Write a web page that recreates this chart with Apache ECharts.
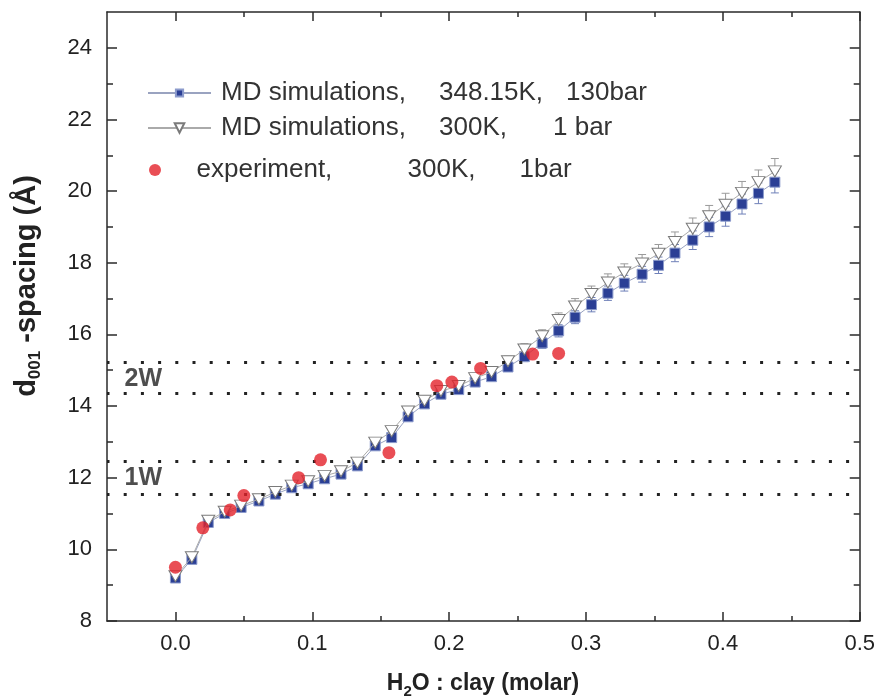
<!DOCTYPE html>
<html><head><meta charset="utf-8">
<script src="https://cdn.jsdelivr.net/npm/echarts@6/dist/echarts.min.js"></script>
<style>html,body{margin:0;padding:0;background:#fff}#c{width:878px;height:699px}</style>
</head><body><div id="c"></div>
<script>
// ---- data ----
const xMD = [0, 0.012, 0.024, 0.036, 0.048, 0.061, 0.073, 0.085, 0.097, 0.109, 0.121, 0.133, 0.146, 0.158, 0.170, 0.182, 0.194, 0.207, 0.219, 0.231, 0.243, 0.255, 0.268, 0.280, 0.292, 0.304, 0.316, 0.328, 0.341, 0.353, 0.365, 0.378, 0.390, 0.402, 0.414, 0.426, 0.438];
const yMD348 = [9.2, 9.72, 10.75, 11.0, 11.17, 11.35, 11.54, 11.72, 11.83, 11.97, 12.1, 12.33, 12.89, 13.12, 13.7, 14.06, 14.33, 14.46, 14.67, 14.82, 15.09, 15.38, 15.76, 16.1, 16.48, 16.83, 17.15, 17.43, 17.68, 17.93, 18.27, 18.63, 19.0, 19.3, 19.64, 19.94, 20.25];
const yMD300 = [9.25, 9.78, 10.8, 11.05, 11.22, 11.4, 11.6, 11.78, 11.9, 12.05, 12.18, 12.42, 12.98, 13.3, 13.85, 14.15, 14.42, 14.56, 14.78, 14.95, 15.25, 15.58, 15.95, 16.4, 16.78, 17.13, 17.45, 17.73, 17.98, 18.25, 18.58, 18.95, 19.3, 19.62, 19.95, 20.25, 20.55];
const errMD348 = [0.05, 0.05, 0.05, 0.05, 0.05, 0.05, 0.05, 0.05, 0.05, 0.06, 0.06, 0.07, 0.09, 0.1, 0.1, 0.09, 0.09, 0.09, 0.1, 0.1, 0.12, 0.14, 0.15, 0.17, 0.18, 0.2, 0.2, 0.22, 0.22, 0.23, 0.24, 0.26, 0.27, 0.28, 0.28, 0.29, 0.3];
const errMD300 = [0.05, 0.05, 0.05, 0.05, 0.05, 0.05, 0.05, 0.05, 0.06, 0.06, 0.06, 0.08, 0.1, 0.12, 0.12, 0.1, 0.1, 0.1, 0.1, 0.12, 0.14, 0.16, 0.18, 0.2, 0.22, 0.22, 0.24, 0.24, 0.25, 0.26, 0.28, 0.3, 0.3, 0.32, 0.32, 0.34, 0.36];
const xExp = [0.0, 0.02, 0.04, 0.05, 0.09, 0.106, 0.156, 0.191, 0.202, 0.223, 0.261, 0.28];
const yExp = [9.5, 10.6, 11.1, 11.5, 12.0, 12.5, 12.7, 14.57, 14.67, 15.05, 15.45, 15.47];
const xTicks = [0, 0.1, 0.2, 0.3, 0.4, 0.5];
const xMinorTicks = [0.05, 0.15, 0.25, 0.35, 0.45];
const yTicks = [8, 10, 12, 14, 16, 18, 20, 22, 24];
const yMinorTicks = [9, 11, 13, 15, 17, 19, 21, 23];
const hydrationLevels = [15.22, 14.36, 12.45, 11.54];
const hydrationLabels = [[-0.0235, 14.76, '2W'], [-0.0235, 12.0, '1W']];
const seriesNames = ['MD simulations, 348.15K, 130bar', 'MD simulations, 300K,   1 bar', 'experiment,       300K,    1bar'];

// ---- chart ----
const NARROW = '"Liberation Sans Narrow", "Arial Narrow", "Liberation Sans", Arial, sans-serif';
const SANS = '"Liberation Sans", Arial, sans-serif';
const AX = '#2a2a2a';

function xAx(pos, ticks, len, line, label) {
  return {
    type: 'value', min: -0.05, max: 0.5, position: pos,
    axisLine: { show: line, onZero: false, lineStyle: { color: AX, width: 1.5 } },
    axisTick: { show: true, inside: true, length: len, customValues: ticks, lineStyle: { color: AX, width: 1.5 } },
    axisLabel: label ? { show: true, customValues: ticks, formatter: v => v.toFixed(1), fontFamily: NARROW, fontSize: 22, color: '#222', margin: 12 } : { show: false },
    splitLine: { show: false }
  };
}
function yAx(pos, ticks, len, line, label) {
  return {
    type: 'value', min: 8, max: 25, position: pos,
    axisLine: { show: line, onZero: false, lineStyle: { color: AX, width: 1.5 } },
    axisTick: { show: true, inside: true, length: len, customValues: ticks, lineStyle: { color: AX, width: 1.5 } },
    axisLabel: label ? { show: true, customValues: ticks, fontFamily: NARROW, fontSize: 22, color: '#222', margin: 15 } : { show: false },
    splitLine: { show: false }
  };
}

function errData(ys, es) { return xMD.map((x, i) => [x, ys[i] - es[i], ys[i] + es[i]]); }
function errSeries(ys, es, color, z) {
  return {
    type: 'custom', xAxisIndex: 0, yAxisIndex: 0, z: z, silent: true,
    data: errData(ys, es),
    encode: { x: 0, y: [1, 2] },
    renderItem(params, api) {
      const x = api.value(0);
      const p1 = api.coord([x, api.value(1)]);
      const p2 = api.coord([x, api.value(2)]);
      const w = 4;
      const st = { stroke: color, lineWidth: 1 };
      return { type: 'group', children: [
        { type: 'line', shape: { x1: p1[0], y1: p1[1], x2: p2[0], y2: p2[1] }, style: st },
        { type: 'line', shape: { x1: p1[0] - w, y1: p1[1], x2: p1[0] + w, y2: p1[1] }, style: st },
        { type: 'line', shape: { x1: p2[0] - w, y1: p2[1], x2: p2[0] + w, y2: p2[1] }, style: st }
      ]};
    }
  };
}

const LF = 26;
const legendRich = {
  p: { width: 5 },
  a1: { width: 218, fontSize: LF, fontFamily: SANS, color: '#333' },
  b1: { width: 127, fontSize: LF, fontFamily: SANS, color: '#333' },
  b2: { width: 114, fontSize: LF, fontFamily: SANS, color: '#333' },
  a3: { width: 211, fontSize: LF, fontFamily: SANS, color: '#333' },
  b3: { width: 112, fontSize: LF, fontFamily: SANS, color: '#333' },
  c: { fontSize: LF, fontFamily: SANS, color: '#333' }
};
const legendText = {};
legendText[seriesNames[0]] = '{p| }{a1|MD simulations,}{b1|348.15K,}{c|130bar}';
legendText[seriesNames[1]] = '{p| }{a1|MD simulations,}{b2|300K,}{c|1 bar}';
legendText[seriesNames[2]] = '{p| }{a3|experiment,}{b3|300K,}{c|1bar}';
function legend(name, left, top, ih) {
  return {
    data: [name], left: left, top: top, orient: 'vertical', itemWidth: 63, itemHeight: ih,
    selectedMode: false, padding: 0,
    formatter: n => legendText[n],
    textStyle: { fontSize: LF, fontFamily: SANS, color: '#333', lineHeight: 30, rich: legendRich }
  };
}

const triPath = 'path://M0,0 L20,0 L10,18 Z';

const option = {
  animation: false,
  backgroundColor: '#fff',
  grid: { left: 107, right: 18, top: 12, bottom: 78 },
  xAxis: [
    xAx('bottom', xTicks, 9, true, true),
    xAx('bottom', xMinorTicks, 5, false, false),
    xAx('top', xTicks, 9, true, false),
    xAx('top', xMinorTicks, 5, false, false)
  ],
  yAxis: [
    yAx('left', yTicks, 10, true, true),
    yAx('left', yMinorTicks, 6, false, false),
    yAx('right', yTicks, 10, true, false),
    yAx('right', yMinorTicks, 6, false, false)
  ],
  legend: [
    legend(seriesNames[0], 147, 78, 9),
    legend(seriesNames[1], 147, 113, 12),
    legend(seriesNames[2], 149, 155, 12)
  ],
  graphic: [
    { type: 'text', x: 27, y: 286, rotation: Math.PI / 2,
      style: { text: '{n|d}{s|001}{n| -spacing (Å)}', align: 'center', verticalAlign: 'middle',
        rich: { n: { fontSize: 29, fontWeight: 'bold', fontFamily: SANS, fill: '#222', lineHeight: 34, verticalAlign: 'middle' },
                s: { fontSize: 17, fontWeight: 'bold', fontFamily: SANS, fill: '#222', lineHeight: 34, verticalAlign: 'bottom' } } } },
    { type: 'text', x: 483, y: 684,
      style: { text: '{n|H}{s|2}{n|O : clay (molar)}', align: 'center', verticalAlign: 'middle',
        rich: { n: { fontSize: 23, fontWeight: 'bold', fontFamily: SANS, fill: '#222', lineHeight: 30, verticalAlign: 'middle' },
                s: { fontSize: 15, fontWeight: 'bold', fontFamily: SANS, fill: '#222', lineHeight: 30, verticalAlign: 'bottom' } } } }
  ],
  series: [
    {
      name: 'levels', type: 'scatter', xAxisIndex: 0, yAxisIndex: 0, z: 0, silent: true,
      symbolSize: 0, data: hydrationLabels,
      label: { show: true, position: 'inside', formatter: p => p.value[2], fontSize: 25, fontWeight: 'bold', fontFamily: SANS, color: '#222' },
      markLine: {
        silent: true, symbol: 'none', animation: false,
        label: { show: false },
        lineStyle: { type: [3, 14.2], dashOffset: 0.5, width: 3, color: '#222', cap: 'butt' },
        data: hydrationLevels.map(v => ({ yAxis: v }))
      }
    },
    errSeries(yMD348, errMD348, '#6f80b8', 1),
    errSeries(yMD300, errMD300, '#9a9a9a', 1),
    {
      name: seriesNames[0], type: 'line', xAxisIndex: 0, yAxisIndex: 0, z: 3,
      data: xMD.map((x, i) => [x, yMD348[i]]),
      symbol: 'rect', symbolSize: 10,
      itemStyle: { color: '#2b3f95', borderColor: '#8c9bcc', borderWidth: 1 },
      lineStyle: { color: '#9aa3c0', width: 1 }
    },
    {
      name: seriesNames[1], type: 'line', xAxisIndex: 0, yAxisIndex: 0, z: 4,
      data: xMD.map((x, i) => [x, yMD300[i]]),
      symbol: triPath, symbolSize: [13, 11],
      itemStyle: { color: '#ffffff', borderColor: '#7a7a7a', borderWidth: 1 },
      lineStyle: { color: '#aaaaaa', width: 1 }
    },
    {
      name: seriesNames[2], type: 'scatter', xAxisIndex: 0, yAxisIndex: 0, z: 5,
      data: xExp.map((x, i) => [x, yExp[i]]),
      symbol: 'circle', symbolSize: 13,
      itemStyle: { color: '#e3222b' }
    }
  ]
};
const chart = echarts.init(document.getElementById('c'), null, { renderer: 'canvas' });
chart.setOption(option);
</script></body></html>
